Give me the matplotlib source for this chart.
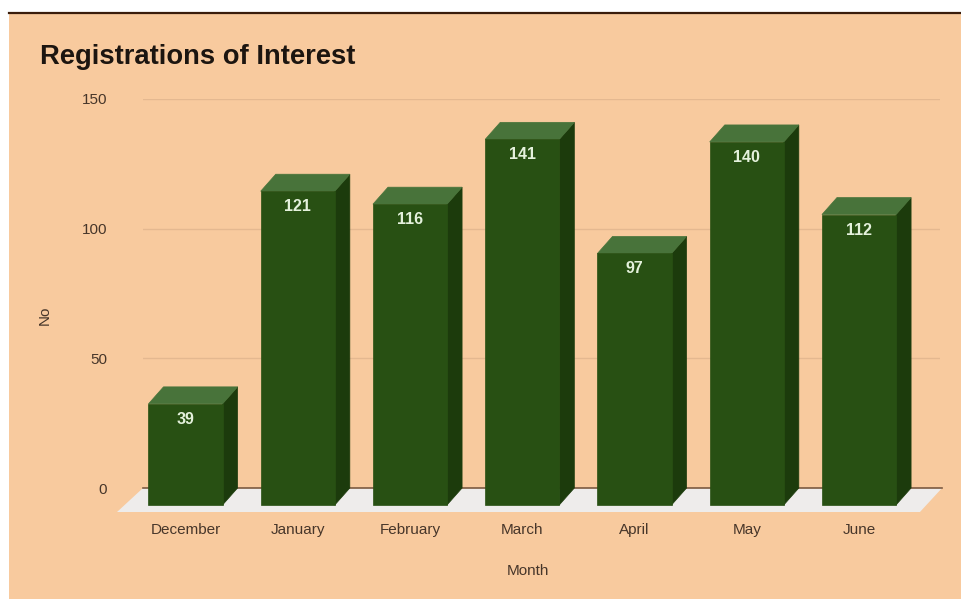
import matplotlib.pyplot as plt
from matplotlib.patches import Rectangle, Polygon

plt.rcParams['font.family'] = ['Liberation Sans', 'DejaVu Sans']

# ---- data ----
months = ['December', 'January', 'February', 'March', 'April', 'May', 'June']
registrations = [39, 121, 116, 141, 97, 140, 112]
y_ticks = [0, 50, 100, 150]

# ---- style ----
bg = '#f8ca9e'
front_col = '#285013'
top_col = '#48733a'
side_col = '#1c3b0c'
floor_col = '#eeeceb'
grid_col = '#e4b890'
text_col = '#47362a'

W, H = 961, 599
fig = plt.figure(figsize=(W / 100, H / 100), dpi=100)
fig.patch.set_facecolor('white')


def fx(px):
    return px / W


def fy(py):
    return 1 - py / H


# peach card with dark top rule
fig.patches.append(Rectangle((fx(9), 0), 1 - fx(9), fy(13), transform=fig.transFigure,
                             facecolor=bg, edgecolor='none', zorder=-10))
fig.lines.append(plt.Line2D([fx(9), 1], [fy(12.5), fy(12.5)], transform=fig.transFigure,
                            color='#3a1d0c', lw=1.6))

ax = fig.add_axes([fx(143), fy(512), fx(940) - fx(143), fy(99) - fy(512)])
ax.set_facecolor('none')
ax.set_xlim(-0.3786, 6.7216)
ax.set_ylim(-9.25, 150)
for s in ax.spines.values():
    s.set_visible(False)

ax.set_yticks(y_ticks)
ax.set_yticklabels([str(t) for t in y_ticks])
ax.yaxis.grid(True, color=grid_col, lw=1.0)
ax.set_axisbelow(True)
ax.tick_params(axis='y', length=0, pad=26, labelsize=11, labelcolor=text_col)

xs = list(range(len(months)))
ax.set_xticks(xs)
ax.set_xticklabels(months)
ax.tick_params(axis='x', length=0, pad=8, labelsize=11, labelcolor=text_col)

# floor
ax.add_patch(Polygon([(-0.61, -9.25), (-0.3786, 0), (6.74, 0), (6.543, -9.25)],
                     closed=True, facecolor=floor_col, edgecolor='none', zorder=1, clip_on=False))
ax.plot([-0.3786, 6.74], [0, 0], color='#7d5b41', lw=1.2, zorder=1.5, clip_on=False)

# pseudo-3D bars
w = 0.66
dx = 0.134
dy = 6.55
for i, v in zip(xs, registrations):
    l, r = i - w / 2, i + w / 2
    ax.add_patch(Polygon([(r, -dy), (r + dx, 0), (r + dx, v), (r, v - dy)],
                         closed=True, facecolor=side_col, edgecolor=side_col, lw=0.5, zorder=3))
    ax.add_patch(Polygon([(l, v - dy), (l + dx, v), (r + dx, v), (r, v - dy)],
                         closed=True, facecolor=top_col, edgecolor=top_col, lw=0.5, zorder=3))
    ax.add_patch(Rectangle((l, -dy), w, v, facecolor=front_col, edgecolor=front_col,
                           lw=0.5, zorder=3.5))
    ax.text(i, v - dy - 6, str(v), ha='center', va='center', fontsize=11.5,
            fontweight='bold', color='#e4f1dc', zorder=4)

fig.text(fx(40), fy(57), 'Registrations of Interest', ha='left', va='center',
         fontsize=19.7, fontweight='bold', color='#1c1510')
fig.text(fx(528), fy(571), 'Month', ha='center', va='center', fontsize=11, color=text_col)
fig.text(fx(45), fy(315), 'No', ha='center', va='center', rotation=90,
         fontsize=11, color=text_col)

fig.savefig('out.png', dpi=100, facecolor=fig.get_facecolor())
